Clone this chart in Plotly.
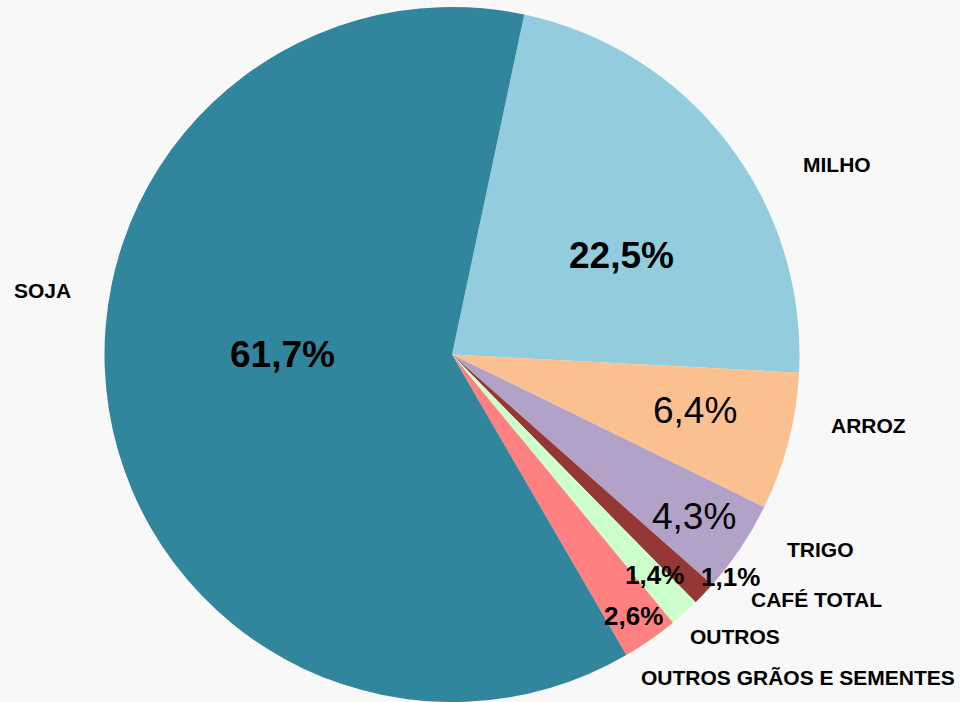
import math
import plotly.graph_objects as go

# ---- data ----
categories = ["MILHO", "ARROZ", "TRIGO", "CAFÉ TOTAL", "OUTROS",
              "OUTROS GRÃOS E SEMENTES", "SOJA"]
shares = [22.5, 6.4, 4.3, 1.1, 1.4, 2.6, 61.7]

# ---- style ----
colors = ["#93CDDD", "#FAC090", "#B3A2C7", "#953735", "#CCFFCC", "#FF8080", "#31859C"]
start_angle = 12.0  # degrees clockwise from 12 o'clock

# label placement (polar, relative to slice mid-angle): angle offset (deg), radius factor
name_ang = [11.3, -4.9, -5.9, -9.6, -3.1, -12.1, 18.0]
name_rad = [1.236, 1.216, 1.199, 1.263, 1.148, 1.362, 1.193]
pct_ang = [7.3, -1.5, 0.0, -4.9, -0.6, 0.0, 9.1]
pct_rad = [0.565, 0.717, 0.838, 1.026, 0.862, 0.915, 0.489]
pct_size = [37, 37, 37, 26, 26, 26, 37]
pct_bold = [True, False, False, True, True, True, True]

W, H = 960, 702
cx_px, cy_px, R_px = 452, 354.5, 347.5
dom_x = [(cx_px - R_px) / W, (cx_px + R_px) / W]
dom_y = [1 - (cy_px + R_px) / H, 1 - (cy_px - R_px) / H]

fig = go.Figure(go.Pie(
    labels=categories, values=shares, sort=False, direction="clockwise",
    rotation=start_angle, marker=dict(colors=colors, line=dict(width=0)),
    textinfo="none", hoverinfo="label+percent", showlegend=False,
    domain=dict(x=dom_x, y=dom_y),
))

total = sum(shares)
cum = 0.0
annotations = []
for i, (cat, v) in enumerate(zip(categories, shares)):
    mid = start_angle + (cum + v / 2) / total * 360
    cum += v
    for ang_off, rad, text, size, bold in (
        (name_ang[i], name_rad[i], cat, 21, True),
        (pct_ang[i], pct_rad[i], f"{v:.1f}%".replace(".", ","), pct_size[i], pct_bold[i]),
    ):
        a = math.radians(mid + ang_off)
        px = cx_px + R_px * rad * math.sin(a)
        py = cy_px - R_px * rad * math.cos(a)
        annotations.append(dict(
            x=px / W, y=1 - py / H, xref="paper", yref="paper",
            text=f"<b>{text}</b>" if bold else text, showarrow=False,
            xanchor="center", yanchor="middle",
            font=dict(family="Liberation Sans, Arial, sans-serif", size=size, color="#000000"),
        ))

fig.update_layout(
    width=W, height=H, margin=dict(l=0, r=0, t=0, b=0),
    paper_bgcolor="#F8F8F8", plot_bgcolor="#F8F8F8",
    annotations=annotations,
)
fig.write_html(
    "out.html",
    config={"displayModeBar": False},
    post_script="document.body.style.margin='0';document.body.style.background='#F8F8F8';",
)
